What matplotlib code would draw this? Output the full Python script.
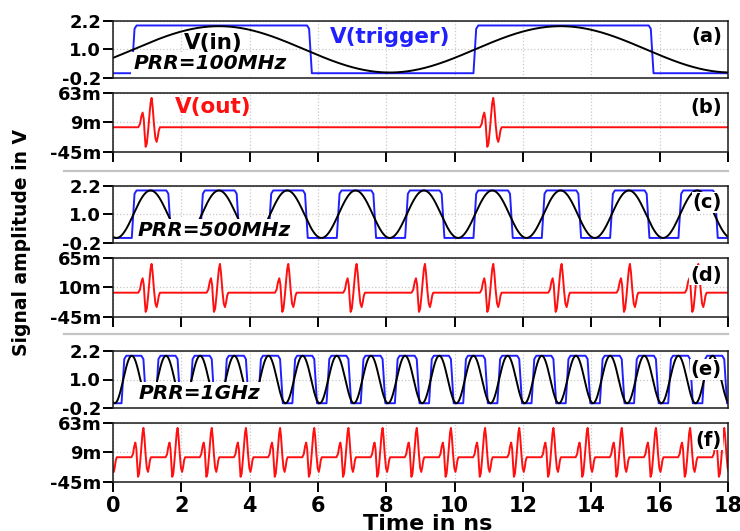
import numpy as np
import matplotlib
matplotlib.use("Agg")
import matplotlib.pyplot as plt
from matplotlib.lines import Line2D

plt.rcParams['font.family'] = ['DejaVu Sans']
plt.rcParams['font.weight'] = 'bold'

W, H = 740, 531
T_END = 18.0

prr_labels = ["PRR=100MHz", "PRR=500MHz", "PRR=1GHz"]
period_ns = [10.0, 2.0, 1.0]
sine_peak_ns = [3.1, 1.1, 0.55]
sine_amp = [0.97, 1.0, 1.0]
trig_rise_ns = [0.6, 0.6, 0.3]
trig_fall_ns = [5.75, 1.63, 0.9]
V_LOW, V_HIGH = 0.0, 2.0
SINE_MID = 1.0

# one V(out) burst, time from burst start (ns) and amplitude (mV)
pulse_dt = [0.00, 0.05, 0.09, 0.127, 0.16, 0.19, 0.215, 0.25, 0.29, 0.33,
            0.36, 0.39, 0.42, 0.46, 0.50, 0.537, 0.57, 0.60, 0.634]
pulse_mv = [0, 6, 20, 27, 15, -15, -36, -30, -5, 25,
            45, 54, 38, 5, -20, -27, -18, -6, 0]
pulse_width_scale = [1.0, 1.0, 0.9]
pulse_starts = [
    [0.74, 10.74],
    [0.74, 2.74, 4.74, 6.74, 8.74, 10.74, 12.74, 14.74, 16.74],
    [-0.46, 0.54, 1.54, 2.54, 3.54, 4.54, 5.54, 6.54, 7.54, 8.54, 9.54,
     10.54, 11.54, 12.54, 13.54, 14.54, 15.54, 16.54, 17.54],
]

in_ticks = [-0.2, 1.0, 2.2]
in_ticklabels = ["-0.2", "1.0", "2.2"]
out_ticks = [[-45, 9, 63], [-45, 10, 65], [-45, 9, 63]]
out_ticklabels = [["-45m", "9m", "63m"], ["-45m", "10m", "65m"], ["-45m", "9m", "63m"]]
x_ticks = [0, 2, 4, 6, 8, 10, 12, 14, 16, 18]
panel_tags = ["(a)", "(b)", "(c)", "(d)", "(e)", "(f)"]

# pixel boxes of the panels (top, bottom)
boxes = [(20.7, 78), (93, 151.7), (185.7, 242.7), (258, 316.7), (351, 408), (423, 481.7)]
tag_y = [0.72, 0.76, 0.70, 0.71, 0.67, 0.71]
prr_xy = [(2.84, 0.39), (2.96, 0.33), (2.52, 0.43)]

BLUE = "#2020ff"
RED = "#ff1010"
GRID = "#c8c8c8"


def trigger_wave(rise, fall, period):
    ts, vs = [], []
    k = -1
    while rise + k * period < T_END + period:
        r = rise + k * period
        f = fall + k * period
        ts += [r - 0.05, r + 0.03, r + 0.09, f - 0.07, f - 0.01, f + 0.07]
        vs += [V_LOW, V_HIGH * 0.93, V_HIGH, V_HIGH, V_HIGH * 0.93, V_LOW]
        k += 1
    return ts, vs


def pulse_train(starts, scale):
    ts, vs = [-1.0], [0.0]
    for s in starts:
        ts += [s + d * scale for d in pulse_dt]
        vs += pulse_mv
    ts.append(T_END + 1)
    vs.append(0.0)
    return ts, vs


fig = plt.figure(figsize=(W / 100, H / 100), dpi=100)


def make_axes(top, bottom):
    return fig.add_axes([113 / W, 1 - bottom / H, 615 / W, (bottom - top) / H])


def style(ax, xlab_on, xticks_on):
    ax.set_xlim(0, T_END)
    ax.set_xticks(x_ticks)
    ax.grid(True, color=GRID, ls=":", lw=0.9)
    ax.set_axisbelow(True)
    for sp in ax.spines.values():
        sp.set_linewidth(1.1)
        sp.set_color("#1a1a1a")
    ax.tick_params(axis="y", direction="out", length=7, width=1.4, pad=1.5, labelsize=13)
    ax.tick_params(axis="x", direction="out", length=7 if xticks_on else 0, width=1.4,
                   pad=3.5, labelsize=15, labelbottom=xlab_on)


t = np.linspace(0, T_END, 4000)
for i in range(3):
    ax_in = make_axes(*boxes[2 * i])
    ax_out = make_axes(*boxes[2 * i + 1])

    tt, tv = trigger_wave(trig_rise_ns[i], trig_fall_ns[i], period_ns[i])
    ax_in.plot(tt, tv, color=BLUE, lw=1.4)
    v_in = SINE_MID + sine_amp[i] * np.cos(2 * np.pi * (t - sine_peak_ns[i]) / period_ns[i])
    ax_in.plot(t, v_in, color="black", lw=1.4)
    ax_in.set_ylim(in_ticks[0], in_ticks[-1])
    ax_in.set_yticks(in_ticks)
    ax_in.set_yticklabels(in_ticklabels)
    style(ax_in, False, False)
    ax_in.text(prr_xy[i][0], prr_xy[i][1], prr_labels[i], fontsize=14.5, fontstyle="italic",
               fontweight="bold", ha="center", va="center",
               bbox=dict(boxstyle="square,pad=0.1", fc="white", ec="none"))

    pt, pv = pulse_train(pulse_starts[i], pulse_width_scale[i])
    ax_out.plot(pt, pv, color=RED, lw=1.4)
    ax_out.set_ylim(out_ticks[i][0], out_ticks[i][-1])
    ax_out.set_yticks(out_ticks[i])
    ax_out.set_yticklabels(out_ticklabels[i])
    style(ax_out, i == 2, True)

    for ax, tag, ty in [(ax_in, panel_tags[2 * i], tag_y[2 * i]),
                        (ax_out, panel_tags[2 * i + 1], tag_y[2 * i + 1])]:
        ax.text(0.99, ty, tag, transform=ax.transAxes, ha="right", va="center", fontsize=14,
                fontweight="bold", bbox=dict(boxstyle="square,pad=0.05", fc="white", ec="none"))

    if i == 0:
        ax_in.text(2.93, 1.28, "V(in)", fontsize=15.5, fontweight="bold", ha="center", va="center")
        ax_in.text(8.1, 1.52, "V(trigger)", fontsize=15.5, fontweight="bold", color=BLUE,
                   ha="center", va="center")
        ax_out.text(2.93, 37, "V(out)", fontsize=15.5, fontweight="bold", color=RED,
                    ha="center", va="center")

# grey separators between the three PRR groups
for yy in [170.7, 334.3]:
    fig.add_artist(Line2D([64 / W, 728 / W], [1 - yy / H, 1 - yy / H], color="#c4c4c4", lw=1.6))

fig.text(22 / W, 1 - 242 / H, "Signal amplitude in V", rotation=90, ha="center", va="center",
         fontsize=13.5, fontweight="bold")
fig.text(428 / W, 1 - 514 / H, "Time in ns", ha="center", va="top", fontsize=16, fontweight="bold")

fig.savefig("out.png", dpi=100)
